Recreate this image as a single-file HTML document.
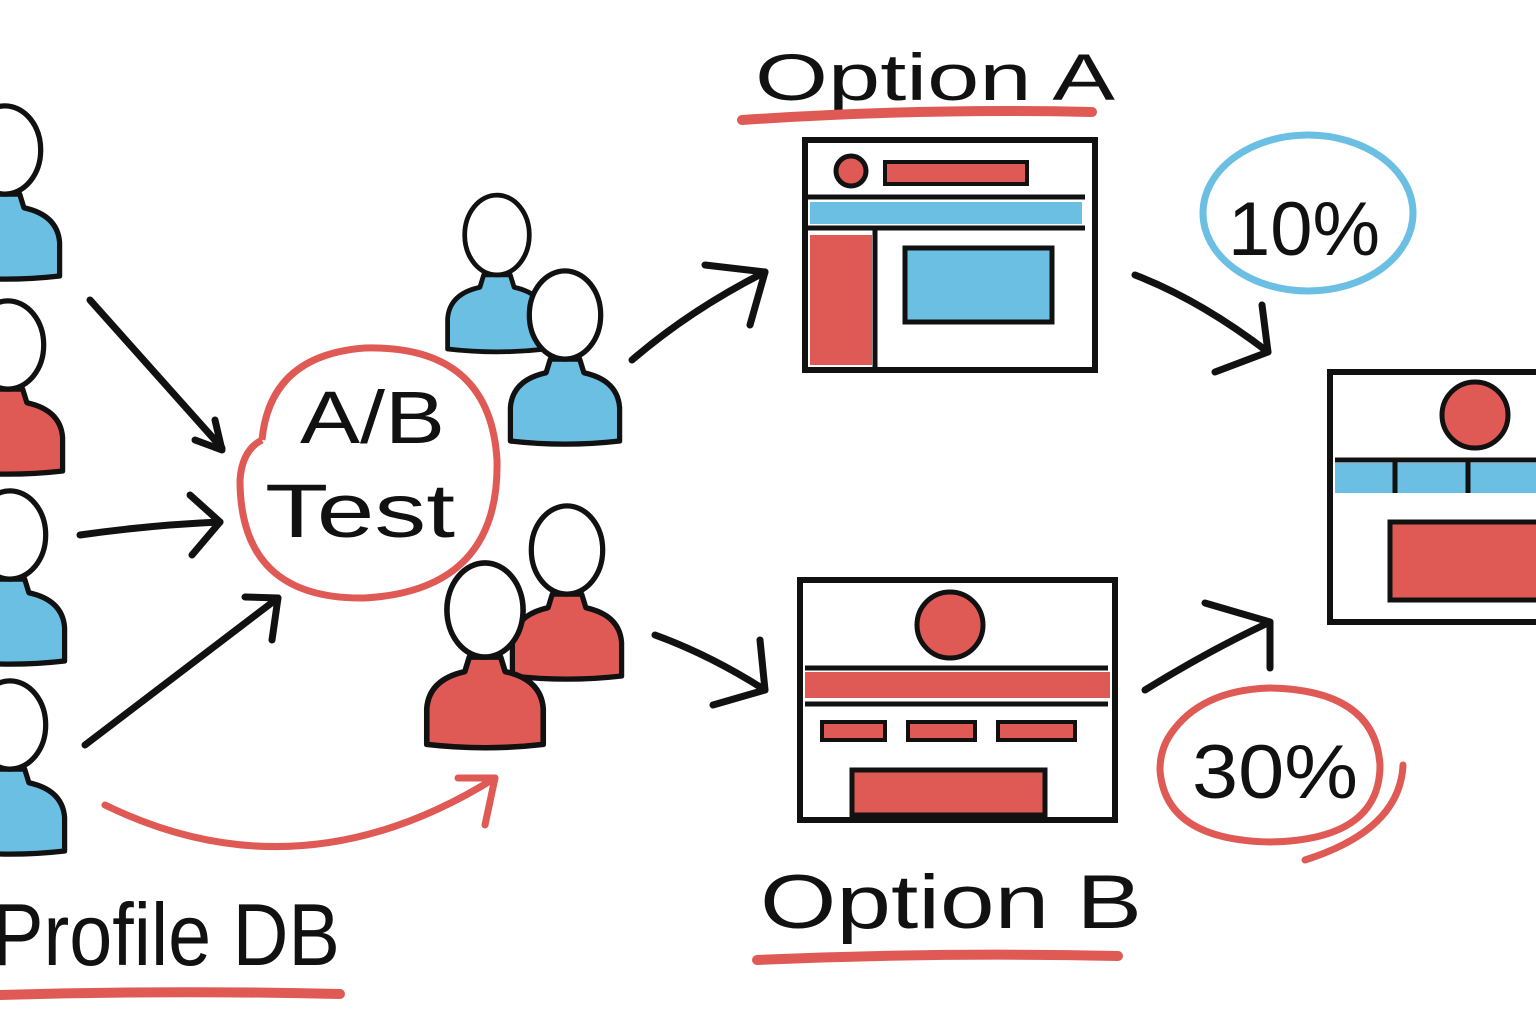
<!DOCTYPE html>
<html><head><meta charset="utf-8"><style>
html,body{margin:0;padding:0;background:#fff;}
svg{display:block;}
text{font-family:"Liberation Sans",sans-serif;fill:#111;}
</style></head><body>
<svg width="1536" height="1024" viewBox="0 0 1536 1024" xmlns="http://www.w3.org/2000/svg">
<defs>
<g id="pb">
 <path d="M-52,120 L-52,88 Q-50,62 -18,55 L-14,42 L14,42 L18,55 Q50,62 52,88 L52,120 Q0,126 -52,120 Z" fill="#6bbfe3" stroke="#111" stroke-width="5" stroke-linejoin="round"/>
 <ellipse cx="0" cy="0" rx="34" ry="42" fill="#fff" stroke="#111" stroke-width="5"/>
</g>
<g id="pr">
 <path d="M-52,120 L-52,88 Q-50,62 -18,55 L-14,42 L14,42 L18,55 Q50,62 52,88 L52,120 Q0,126 -52,120 Z" fill="#e05a55" stroke="#111" stroke-width="5" stroke-linejoin="round"/>
 <ellipse cx="0" cy="0" rx="34" ry="42" fill="#fff" stroke="#111" stroke-width="5"/>
</g>
</defs>

<use href="#pb" transform="translate(5,150) scale(1.05)"/>
<use href="#pr" transform="translate(8,345) scale(1.05)"/>
<use href="#pb" transform="translate(10,535) scale(1.05)"/>
<use href="#pb" transform="translate(10,725) scale(1.05)"/>

<g fill="none" stroke="#111" stroke-width="7" stroke-linecap="round" stroke-linejoin="round">
 <path d="M90,300 L222,448"/><path d="M195,440 L222,450 L215,420"/>
 <path d="M80,535 Q150,525 220,522"/><path d="M190,495 L220,522 L192,555"/>
 <path d="M85,745 L278,598"/><path d="M245,597 L278,598 L272,640"/>
 <path d="M632,360 Q690,310 765,272"/><path d="M705,265 L765,272 L750,325"/>
 <path d="M655,635 Q710,655 765,690"/><path d="M760,640 L765,690 L713,705"/>
 <path d="M1135,275 Q1200,300 1268,352"/><path d="M1262,305 L1268,352 L1215,372"/>
 <path d="M1145,690 Q1210,650 1270,622"/><path d="M1205,603 L1270,622 L1270,668"/>
</g>
<g fill="none" stroke="#e05a55" stroke-width="7" stroke-linecap="round" stroke-linejoin="round">
 <path d="M105,805 Q300,900 495,778"/><path d="M458,778 L495,778 L485,825"/>
</g>

<path d="M262,440 Q270,355 365,348 Q490,345 497,460 Q500,590 365,598 Q240,600 240,480 Q242,450 262,440" fill="none" stroke="#e05a55" stroke-width="7"/>
<text x="300" y="443" font-size="74" textLength="145" lengthAdjust="spacingAndGlyphs">A/B</text>
<text x="265" y="537" font-size="76" textLength="190" lengthAdjust="spacingAndGlyphs">Test</text>

<use href="#pb" transform="translate(497,235) scale(0.95)"/>
<use href="#pb" transform="translate(565,315) scale(1.05)"/>
<use href="#pr" transform="translate(567,550) scale(1.05)"/>
<use href="#pr" transform="translate(485,610) scale(1.12)"/>

<text x="755" y="100" font-size="66" textLength="360" lengthAdjust="spacingAndGlyphs">Option A</text>
<path d="M742,120 Q920,108 1092,112" stroke="#e05a55" stroke-width="10" fill="none" stroke-linecap="round"/>
<rect x="805" y="140" width="290" height="230" fill="none" stroke="#111" stroke-width="6"/>
<circle cx="851" cy="171" r="15" fill="#e05a55" stroke="#111" stroke-width="5"/>
<rect x="885" y="162" width="142" height="22" fill="#e05a55" stroke="#111" stroke-width="4"/>
<line x1="808" y1="197" x2="1085" y2="197" stroke="#111" stroke-width="5"/>
<rect x="810" y="202" width="272" height="22" fill="#6bbfe3"/>
<line x1="808" y1="228" x2="1085" y2="228" stroke="#111" stroke-width="5"/>
<rect x="810" y="235" width="62" height="130" fill="#e05a55"/>
<line x1="875" y1="230" x2="875" y2="368" stroke="#111" stroke-width="5"/>
<rect x="905" y="248" width="147" height="74" fill="#6bbfe3" stroke="#111" stroke-width="5"/>

<ellipse cx="1308" cy="213" rx="105" ry="78" fill="none" stroke="#6bbfe3" stroke-width="7"/>
<text x="1228" y="255" font-size="76" textLength="152" lengthAdjust="spacingAndGlyphs">10%</text>

<rect x="800" y="580" width="315" height="240" fill="none" stroke="#111" stroke-width="6"/>
<circle cx="950" cy="625" r="33" fill="#e05a55" stroke="#111" stroke-width="5"/>
<line x1="805" y1="668" x2="1108" y2="668" stroke="#111" stroke-width="5"/>
<rect x="805" y="672" width="305" height="26" fill="#e05a55"/>
<line x1="805" y1="704" x2="1108" y2="704" stroke="#111" stroke-width="5"/>
<rect x="822" y="722" width="63" height="18" fill="#e05a55" stroke="#111" stroke-width="4"/>
<rect x="908" y="722" width="67" height="18" fill="#e05a55" stroke="#111" stroke-width="4"/>
<rect x="998" y="722" width="77" height="18" fill="#e05a55" stroke="#111" stroke-width="4"/>
<rect x="852" y="770" width="193" height="45" fill="#e05a55" stroke="#111" stroke-width="5"/>
<text x="760" y="928" font-size="76" textLength="382" lengthAdjust="spacingAndGlyphs">Option B</text>
<path d="M757,960 Q940,952 1118,956" stroke="#e05a55" stroke-width="10" fill="none" stroke-linecap="round"/>

<path d="M1170,735 Q1200,690 1270,688 Q1375,690 1380,765 Q1380,840 1270,842 Q1165,840 1160,770 Q1160,750 1170,735" fill="none" stroke="#e05a55" stroke-width="7"/>
<path d="M1305,860 Q1400,830 1403,765" fill="none" stroke="#e05a55" stroke-width="7" stroke-linecap="round"/>
<text x="1192" y="798" font-size="76" textLength="166" lengthAdjust="spacingAndGlyphs">30%</text>

<path d="M1536,372 L1330,372 L1330,622 L1536,622" fill="none" stroke="#111" stroke-width="6"/>
<circle cx="1475" cy="415" r="33" fill="#e05a55" stroke="#111" stroke-width="5"/>
<line x1="1335" y1="460" x2="1536" y2="460" stroke="#111" stroke-width="5"/>
<rect x="1335" y="463" width="201" height="30" fill="#6bbfe3"/>
<line x1="1395" y1="460" x2="1395" y2="493" stroke="#111" stroke-width="5"/>
<line x1="1468" y1="460" x2="1468" y2="493" stroke="#111" stroke-width="5"/>
<rect x="1390" y="522" width="150" height="78" fill="#e05a55" stroke="#111" stroke-width="5"/>

<text x="-8" y="965" font-size="88" textLength="348" lengthAdjust="spacingAndGlyphs">Profile DB</text>
<path d="M0,995 Q170,990 340,994" stroke="#e05a55" stroke-width="10" fill="none" stroke-linecap="round"/>
</svg>
</body></html>
